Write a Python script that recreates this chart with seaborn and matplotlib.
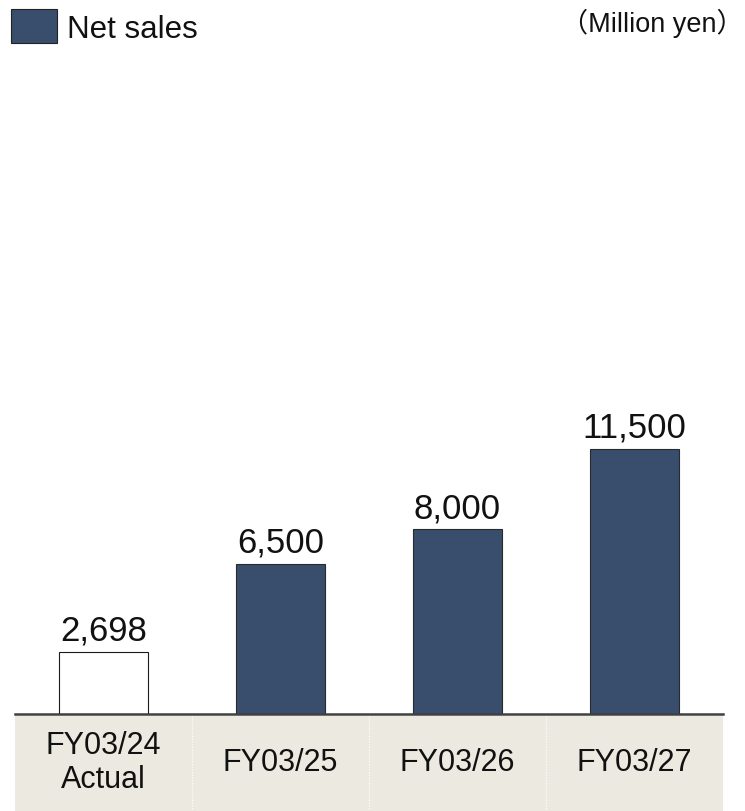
import matplotlib
matplotlib.use("Agg")
import matplotlib.pyplot as plt
import matplotlib.transforms as mtransforms
from matplotlib.patches import Rectangle
import seaborn as sns
import pandas as pd

# Net sales plan (million yen)
categories = ["FY03/24\nActual", "FY03/25", "FY03/26", "FY03/27"]
values = [2698, 6500, 8000, 11500]
value_labels = ["2,698", "6,500", "8,000", "11,500"]
legend_label = "Net sales"
unit_label = "（Million yen）"

NAVY = "#394D6D"
BAND = "#ECEAE0"
bar_colors = ["#FFFFFF", NAVY, NAVY, NAVY]

sns.set_theme(style="white")
plt.rcParams["font.family"] = ["Liberation Sans", "Noto Sans CJK JP", "DejaVu Sans"]

W, H = 745, 811
fig = plt.figure(figsize=(W / 100, H / 100), dpi=100)

# axes: baseline at y=714 px, x from 15 to 723 px
ax_left, ax_right = 15, 723
ax_base, ax_top = 714, 114
ax = fig.add_axes([ax_left / W, (H - ax_base) / H,
                   (ax_right - ax_left) / W, (ax_base - ax_top) / H])

df = pd.DataFrame({"category": categories, "value": values})
sns.barplot(data=df, x="category", y="value", hue="category",
            palette=bar_colors, legend=False, width=0.5,
            edgecolor="#2A2A2A", linewidth=0.8, saturation=1, ax=ax)
for p in ax.patches:
    if p.get_facecolor()[:3] == (1.0, 1.0, 1.0):
        p.set_edgecolor("#1A1A1A")

ax.set_xlim(-0.5, len(categories) - 0.5)
ax.set_ylim(0, 26000)
ax.set_xlabel("")
ax.set_ylabel("")
ax.set_xticks([])
ax.set_yticks([])
for side in ("top", "left", "right"):
    ax.spines[side].set_visible(False)
ax.spines["bottom"].set_color("#404040")
ax.spines["bottom"].set_linewidth(1.8)

# value labels above each bar
for container, lab in zip(ax.containers, value_labels):
    ax.bar_label(container, labels=[lab], padding=3, fontsize=25, color="#111111")

# category band under the axis
axes_h = ax_base - ax_top
band_top = -2 / axes_h
band_bot = -(H - ax_base + 2) / axes_h
ax.add_patch(Rectangle((0, band_bot), 1, band_top - band_bot,
                       transform=ax.transAxes, facecolor=BAND,
                       edgecolor="none", clip_on=False, zorder=0))
blend = mtransforms.blended_transform_factory(ax.transData, ax.transAxes)
for xb in [0.5, 1.5, 2.5]:
    ax.plot([xb, xb], [band_top, band_bot], transform=blend, color="white",
            linestyle=(0, (1, 1.5)), linewidth=0.8, clip_on=False)
label_y = -(763 - ax_base) / axes_h
for i, cat in enumerate(categories):
    ax.text(i, label_y, cat, transform=blend, ha="center", va="center",
            fontsize=22, color="#111111", linespacing=1.15)

# legend swatch and unit note
fig.add_artist(Rectangle((11 / W, 1 - 43 / H), 46 / W, 34 / H,
                         transform=fig.transFigure, facecolor=NAVY,
                         edgecolor="#222222", linewidth=0.8))
fig.text(67 / W, 1 - 38 / H, legend_label, fontsize=22.5, color="#111111",
         ha="left", va="baseline")
fig.text(744 / W, 1 - 32 / H, unit_label, fontsize=19.5, color="#111111",
         ha="right", va="baseline")

fig.savefig("out.png", dpi=100)
